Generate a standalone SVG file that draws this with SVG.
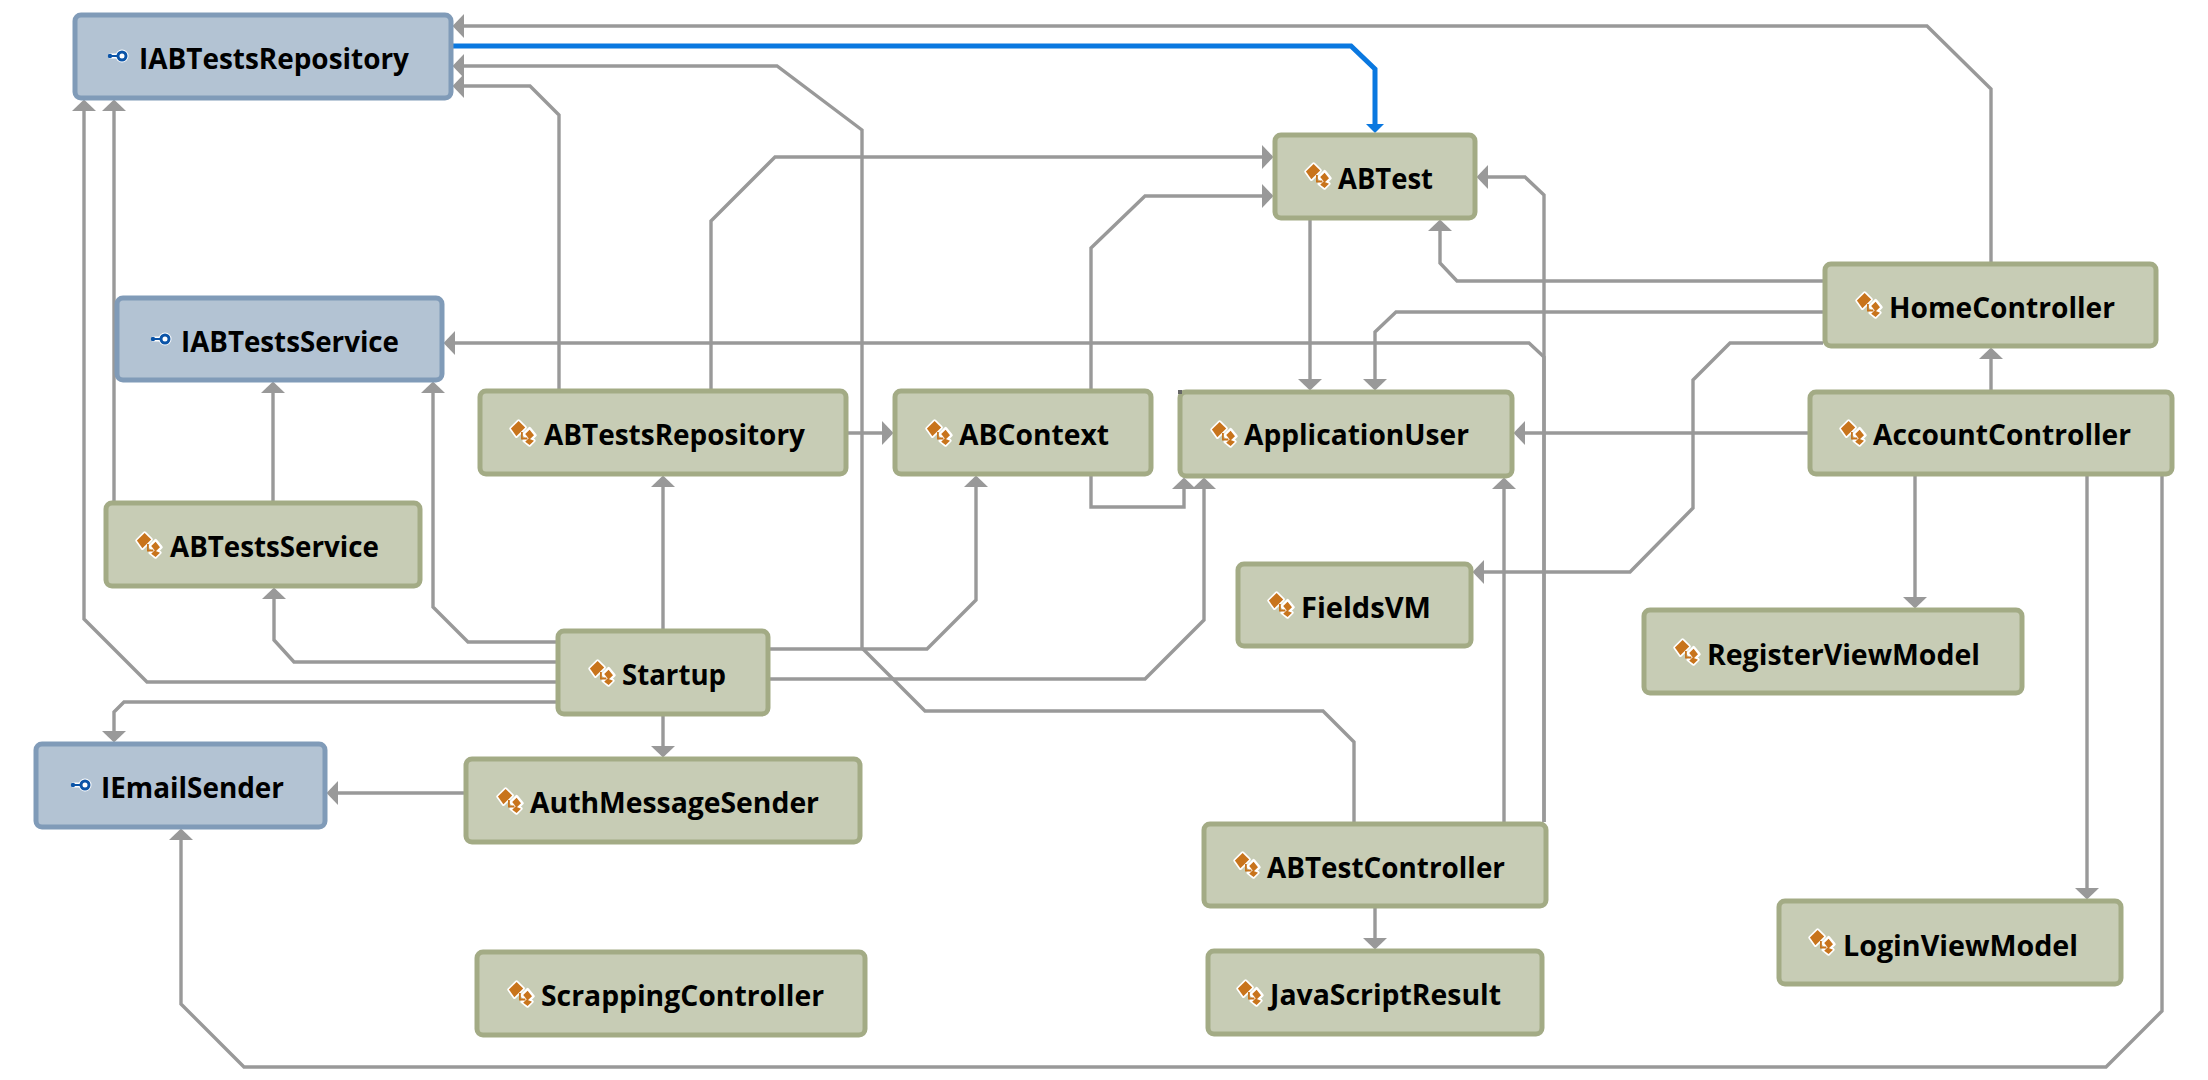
<svg xmlns="http://www.w3.org/2000/svg" width="2208" height="1080" viewBox="0 0 2208 1080">
<style>
.c{fill:#c7ccb5;stroke:#a3ab85;stroke-width:5}
.i{fill:#b3c3d3;stroke:#809bb8;stroke-width:5}
.t{font-family:"Open Sans","Noto Sans",sans-serif;font-weight:700;font-size:28px;fill:#000}
.e{fill:none;stroke:#999;stroke-width:3.400;marker-end:url(#a)}
.b{fill:none;stroke:#0a78e0;stroke-width:5;marker-end:url(#ab)}
</style>
<defs>
<marker id="a" markerUnits="userSpaceOnUse" markerWidth="12" markerHeight="24" refX="8" refY="12" orient="auto"><path d="M0 0L11.500 12L0 24Z" fill="#999"/></marker>
<marker id="ab" markerUnits="userSpaceOnUse" markerWidth="9" markerHeight="18" refX="6" refY="9" orient="auto"><path d="M0 0L9 9L0 18Z" fill="#0a78e0"/></marker>
<g id="ci" transform="scale(1.100)">
<path d="M-11 -4L-4 -11L2 -5L-6 3Z M1 1L6 -4L11 2L6 7Z M1 7L5 4L10 7L6 11Z" fill="#fff" stroke="#fff" stroke-width="3" stroke-linejoin="round"/>
<path d="M-11 -4L-4 -11L2 -5L-6 3Z" fill="#c8741c"/>
<path d="M2 1L6 -3L10 2L6 6Z M2 8L5 5L10 7L6 11Z" fill="#c8741c"/>
<path d="M-1 -1V5H4" fill="none" stroke="#c8741c" stroke-width="1.600"/>
</g>
<g id="ii">
<path d="M-9 0H0" stroke="#fff" stroke-width="5"/><circle cx="4" cy="0" r="6.500" fill="#fff"/>
<path d="M-8 0H0" stroke="#0b54a8" stroke-width="2"/><circle cx="-8" cy="0" r="2.200" fill="#0b54a8"/>
<circle cx="4" cy="0" r="4" fill="#fff" stroke="#0b54a8" stroke-width="3"/>
</g>
</defs>
<rect width="2208" height="1080" fill="#fff"/>
<g id="connectors">
<path class="e" d="M1991 262V89L1927 26H456"/>
<path class="e" d="M1354 822V742L1323 711H925L862 648V130L777 66H456"/>
<path class="e" d="M559 389V115L530 86H456"/>
<path class="e" d="M711 389V221L775 157H1270"/>
<path class="e" d="M1091 389V248L1145 196H1270"/>
<path class="e" d="M1544 822V195L1525 177H1480"/>
<path class="e" d="M1823 281H1457L1440 263V223"/>
<path class="e" d="M1310 220V387"/>
<path class="e" d="M1823 312H1396L1375 332V387"/>
<path class="e" d="M1823 343H1730L1693 380V508L1630 572H1476"/>
<path class="e" d="M1991 390V351"/>
<path class="e" d="M1808 433H1517"/>
<path class="e" d="M1915 476V605"/>
<path class="e" d="M2087 476V896"/>
<path class="e" d="M2162 476V1011L2106 1067H244L181 1004V832"/>
<path class="e" d="M1544 822V357L1529 343H447"/>
<path class="e" d="M1375 908V946"/>
<path class="e" d="M1504 822V481"/>
<path class="e" d="M663 629V479"/>
<path class="e" d="M769 649H927L976 600V479"/>
<path class="e" d="M769 679H1145L1204 620V481"/>
<path class="e" d="M1091 476V507H1184V481"/>
<path class="e" d="M557 662H294L274 640V591"/>
<path class="e" d="M557 642H468L433 607V385"/>
<path class="e" d="M557 682H147L84 619V103"/>
<path class="e" d="M114 501V103"/>
<path class="e" d="M273 501V385"/>
<path class="e" d="M557 702H124L114 712V739"/>
<path class="e" d="M663 716V754"/>
<path class="e" d="M464 793H330"/>
<path class="e" d="M848 433H890"/>
<path class="b" d="M453 46H1351L1375 69V130"/>
</g>
<g id="IABTestsRepository"><rect class="i" x="75" y="15" width="376" height="83" rx="6"/><use href="#ii" x="118" y="56"/><text class="t" x="139" y="69" textLength="270" lengthAdjust="spacingAndGlyphs">IABTestsRepository</text></g>
<g id="IABTestsService"><rect class="i" x="117" y="298" width="325" height="82" rx="6"/><use href="#ii" x="161" y="339"/><text class="t" x="181" y="352" textLength="218" lengthAdjust="spacingAndGlyphs">IABTestsService</text></g>
<g id="IEmailSender"><rect class="i" x="36" y="744" width="289" height="83" rx="6"/><use href="#ii" x="81" y="785"/><text class="t" x="101" y="798" textLength="183" lengthAdjust="spacingAndGlyphs">IEmailSender</text></g>
<g id="ABTest"><rect class="c" x="1275" y="135" width="200" height="83" rx="6"/><use href="#ci" x="1318" y="176"/><text class="t" x="1338" y="189" textLength="95" lengthAdjust="spacingAndGlyphs">ABTest</text></g>
<g id="ABTestsRepository"><rect class="c" x="480" y="391" width="366" height="83" rx="6"/><use href="#ci" x="523" y="433"/><text class="t" x="544" y="445" textLength="261" lengthAdjust="spacingAndGlyphs">ABTestsRepository</text></g>
<g id="ABContext"><rect class="c" x="895" y="391" width="256" height="83" rx="6"/><use href="#ci" x="939" y="433"/><text class="t" x="959" y="445" textLength="150" lengthAdjust="spacingAndGlyphs">ABContext</text></g>
<g id="ApplicationUser"><rect class="c" x="1180" y="392" width="332" height="84" rx="6"/><rect x="1178" y="390" width="4" height="4" fill="#666"/><use href="#ci" x="1224" y="434"/><text class="t" x="1244" y="445" textLength="225" lengthAdjust="spacingAndGlyphs">ApplicationUser</text></g>
<g id="HomeController"><rect class="c" x="1825" y="264" width="331" height="82" rx="6"/><use href="#ci" x="1869" y="305"/><text class="t" x="1889" y="318" textLength="226" lengthAdjust="spacingAndGlyphs">HomeController</text></g>
<g id="AccountController"><rect class="c" x="1810" y="392" width="362" height="82" rx="6"/><use href="#ci" x="1853" y="433"/><text class="t" x="1873" y="445" textLength="258" lengthAdjust="spacingAndGlyphs">AccountController</text></g>
<g id="ABTestsService"><rect class="c" x="106" y="503" width="314" height="83" rx="6"/><use href="#ci" x="149" y="545"/><text class="t" x="170" y="557" textLength="209" lengthAdjust="spacingAndGlyphs">ABTestsService</text></g>
<g id="FieldsVM"><rect class="c" x="1238" y="564" width="233" height="82" rx="6"/><use href="#ci" x="1281" y="605"/><text class="t" x="1301" y="618" textLength="130" lengthAdjust="spacingAndGlyphs">FieldsVM</text></g>
<g id="RegisterViewModel"><rect class="c" x="1644" y="610" width="378" height="83" rx="6"/><use href="#ci" x="1687" y="652"/><text class="t" x="1707" y="665" textLength="273" lengthAdjust="spacingAndGlyphs">RegisterViewModel</text></g>
<g id="Startup"><rect class="c" x="558" y="631" width="210" height="83" rx="6"/><use href="#ci" x="602" y="673"/><text class="t" x="622" y="685" textLength="104" lengthAdjust="spacingAndGlyphs">Startup</text></g>
<g id="AuthMessageSender"><rect class="c" x="466" y="759" width="394" height="83" rx="6"/><use href="#ci" x="510" y="801"/><text class="t" x="530" y="813" textLength="289" lengthAdjust="spacingAndGlyphs">AuthMessageSender</text></g>
<g id="ABTestController"><rect class="c" x="1204" y="824" width="342" height="82" rx="6"/><use href="#ci" x="1247" y="865"/><text class="t" x="1267" y="878" textLength="238" lengthAdjust="spacingAndGlyphs">ABTestController</text></g>
<g id="LoginViewModel"><rect class="c" x="1779" y="901" width="342" height="83" rx="6"/><use href="#ci" x="1822" y="942"/><text class="t" x="1843" y="956" textLength="235" lengthAdjust="spacingAndGlyphs">LoginViewModel</text></g>
<g id="ScrappingController"><rect class="c" x="477" y="952" width="388" height="83" rx="6"/><use href="#ci" x="521" y="994"/><text class="t" x="541" y="1006" textLength="283" lengthAdjust="spacingAndGlyphs">ScrappingController</text></g>
<g id="JavaScriptResult"><rect class="c" x="1208" y="951" width="334" height="83" rx="6"/><use href="#ci" x="1250" y="993"/><text class="t" x="1270" y="1005" textLength="231" lengthAdjust="spacingAndGlyphs">JavaScriptResult</text></g>
</svg>
